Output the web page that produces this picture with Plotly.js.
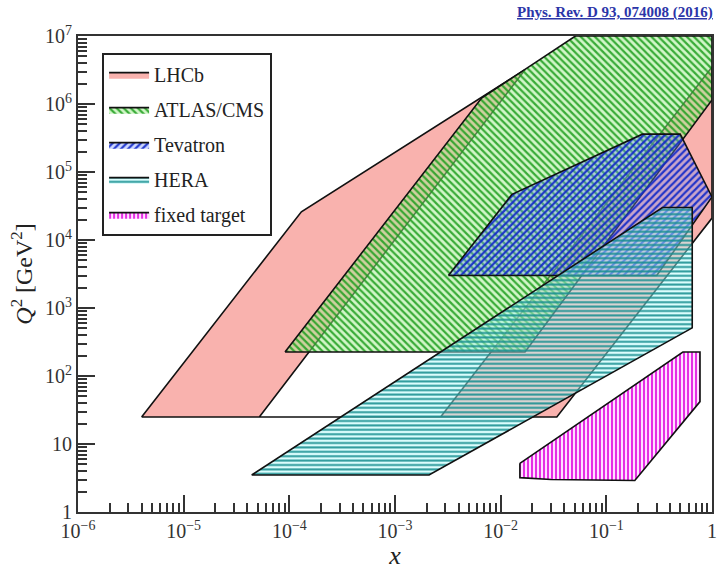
<!DOCTYPE html>
<html>
<head>
<meta charset="utf-8">
<script src="https://cdn.plot.ly/plotly-3.0.1.min.js"></script>
<style>html,body{margin:0;padding:0;background:#fff;}#chart{width:723px;height:570px;}</style>
</head>
<body>
<div id="chart"></div>
<script>
// Region boundaries (x, Q^2 in GeV^2)
const seriesNames = ["LHCb", "ATLAS/CMS", "Tevatron", "HERA", "fixed target"];

const lhcbX = [4e-6, 1.3e-4, 0.017, 5.2e-5, 2.7e-3, 1, 1, 0.034, 4e-6];
const lhcbY = [25, 2.6e4, 3.2e6, 25, 25, 3.5e6, 2.1e4, 25, 25];

const atlasX = [9.1e-5, 6.6e-3, 0.051, 1, 1, 0.017, 9.1e-5];
const atlasY = [225, 1.22e6, 1e7, 1e7, 1.15e6, 225, 225];

const tevatronX = [3.2e-3, 0.0128, 0.22, 0.5, 1, 0.30, 3.2e-3];
const tevatronY = [3000, 4.7e4, 3.6e5, 3.6e5, 4.3e4, 3000, 3000];

const heraX = [4.4e-5, 2.1e-3, 0.65, 0.65, 0.34, 4.4e-5];
const heraY = [3.5, 3.5, 510, 3e4, 3e4, 3.5];

const fixedX = [0.0152, 0.53, 0.77, 0.77, 0.186, 0.03, 0.0152, 0.0152];
const fixedY = [5.2, 225, 225, 42, 2.9, 3.0, 3.2, 5.2];

const xTickVals = [1e-6, 1e-5, 1e-4, 1e-3, 1e-2, 1e-1, 1];
const xTickText = ["10<sup>\u22126</sup>", "10<sup>\u22125</sup>", "10<sup>\u22124</sup>", "10<sup>\u22123</sup>", "10<sup>\u22122</sup>", "10<sup>\u22121</sup>", "1"];
const yTickVals = [1, 10, 1e2, 1e3, 1e4, 1e5, 1e6, 1e7];
const yTickText = ["1", "10", "10<sup>2</sup>", "10<sup>3</sup>", "10<sup>4</sup>", "10<sup>5</sup>", "10<sup>6</sup>", "10<sup>7</sup>"];

const FONT = "Liberation Serif, Times New Roman, serif";
const outline = {color: "#111", width: 1.6};

function region(name, xs, ys, extra) {
  return Object.assign({
    type: "scatter", mode: "lines", name: name, legendgroup: name,
    x: xs, y: ys, fill: "toself", line: outline, hoverinfo: "skip"
  }, extra);
}

const traces = [
  region(seriesNames[0], lhcbX, lhcbY, {fillcolor: "rgba(249,178,174,1)"}),
  region(seriesNames[1], atlasX, atlasY, {
    fillcolor: "rgba(150,225,130,0.55)",
    fillpattern: {shape: "\\", fgcolor: "#1e9e1e", bgcolor: "rgba(165,238,145,0.5)", fgopacity: 0.85, size: 5, solidity: 0.45}
  }),
  region(seriesNames[2], tevatronX, tevatronY, {
    fillcolor: "rgba(90,120,255,0.4)",
    fillpattern: {shape: "/", fgcolor: "#1028c8", bgcolor: "rgba(110,140,255,0.35)", fgopacity: 0.9, size: 5, solidity: 0.45}
  }),
  region(seriesNames[3], heraX, heraY, {
    fillcolor: "rgba(120,230,230,0.5)",
    fillpattern: {shape: "-", fgcolor: "#178f90", bgcolor: "rgba(175,250,250,0.45)", fgopacity: 0.9, size: 4.4, solidity: 0.45}
  }),
  region(seriesNames[4], fixedX, fixedY, {
    fillcolor: "rgba(255,120,255,0.6)",
    fillpattern: {shape: "|", fgcolor: "#e010e0", bgcolor: "rgba(255,200,255,0.6)", fgopacity: 0.95, size: 4, solidity: 0.45}
  })
];

const axisCommon = {
  type: "log", showgrid: false, zeroline: false,
  showline: true, linecolor: "#333", linewidth: 2, mirror: true,
  ticks: "inside", ticklen: 17, tickwidth: 2, tickcolor: "#333",
  tickfont: {family: FONT, size: 20, color: "#333"},
  minor: {ticks: "inside", ticklen: 9, tickwidth: 2, tickcolor: "#333", dtick: "D1", showgrid: false}
};

const layout = {
  width: 723, height: 570,
  margin: {l: 78, r: 11, t: 36, b: 58},
  paper_bgcolor: "#fff", plot_bgcolor: "#fff",
  font: {family: FONT, color: "#222"},
  showlegend: true,
  legend: {
    x: 0.038, y: 0.964, xanchor: "left", yanchor: "top",
    bgcolor: "#fff", bordercolor: "#222", borderwidth: 2,
    font: {family: FONT, size: 20, color: "#222"},
    tracegroupgap: 6, traceorder: "grouped", itemwidth: 40
  },
  xaxis: Object.assign({}, axisCommon, {
    range: [-6, 0], tickvals: xTickVals, ticktext: xTickText,
    title: {text: "<i>x</i>", font: {family: FONT, size: 26, color: "#222"}, standoff: 8}
  }),
  yaxis: Object.assign({}, axisCommon, {
    range: [0, 7], tickvals: yTickVals, ticktext: yTickText,
    title: {text: "<i>Q</i><sup>2</sup> [GeV<sup>2</sup>]", font: {family: FONT, size: 24, color: "#222"}, standoff: 6}
  }),
  annotations: [{
    xref: "paper", yref: "paper", x: 1.005, y: 1.0, yshift: 34, xanchor: "right", yanchor: "top",
    showarrow: false,
    text: "<b><u>Phys. Rev. D 93, 074008 (2016)</u></b>",
    font: {family: FONT, size: 15, color: "#2b35a8"}
  }]
};

Plotly.newPlot("chart", traces, layout, {staticPlot: true, displayModeBar: false});
</script>
</body>
</html>
